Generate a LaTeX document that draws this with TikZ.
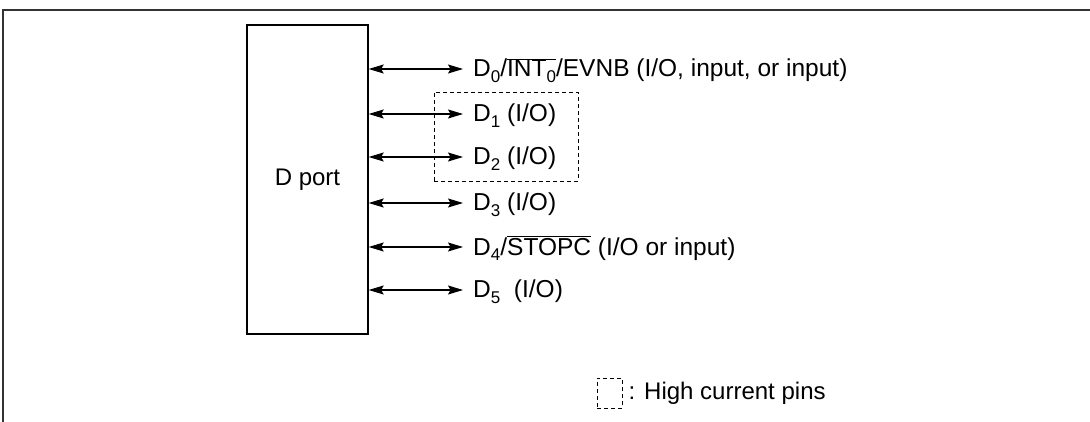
\documentclass[tikz,border=0pt]{standalone}
\usepackage{fontspec}
\setmainfont{Liberation Sans}
\usetikzlibrary{arrows.meta}

% small lowered index in the text font
\newcommand{\pinsub}[1]{\raisebox{-0.45ex}{\fontsize{17}{17}\selectfont #1}}
\newcommand{\pinbar}[1]{$\overline{\hbox{#1}}$}

\begin{document}
\begin{tikzpicture}[x=1pt, y=-1pt,
    pinarrow/.style={line width=1.1pt, {Stealth[length=15pt,width=9pt,inset=2.5pt]}-{Stealth[length=15pt,width=9pt,inset=2.5pt]}},
    pinlabel/.style={anchor=west, inner xsep=10pt, inner ysep=0pt, text height=16pt, text depth=0pt, font=\fontsize{24.5}{28}\selectfont},
    hcbox/.style={draw, line width=0.9pt, dash pattern=on 4pt off 3pt}]
        \useasboundingbox (0,0) rectangle (1090,422);

        % Frame
        \draw[line width=1.5pt, black!80] (3,422) -- (3,10) -- (1090,10);

        % Port block
        \node[draw, line width=1.3pt, minimum width=121pt, minimum height=309pt, inner sep=0pt,
              font=\fontsize{24}{28}\selectfont] (port) at (307.5,179.5) {D port};

        % Pin labels
        \node[pinlabel] (d0) at (463,69) {D\pinsub{0}/\pinbar{INT\pinsub{0}}/EVNB (I/O, input, or input)};
        \node[pinlabel] (d1) at (463,114) {D\pinsub{1} (I/O)};
        \node[pinlabel] (d2) at (463,157) {D\pinsub{2} (I/O)};
        \node[pinlabel] (d3) at (463,203) {D\pinsub{3} (I/O)};
        \node[pinlabel] (d4) at (463,247) {D\pinsub{4}/\pinbar{STOPC} (I/O or input)};
        \node[pinlabel] (d5) at (463,290) {D\pinsub{5}\ \ (I/O)};

        % Pin arrows
        \foreach \i in {0,...,5}
            \draw[pinarrow] (port.east |- d\i.west) -- (d\i.west);

        % High current pins
        \node[hcbox, minimum width=144pt, minimum height=89pt] (hc) at (506,136.5) {};

        % Legend
        \node[hcbox, minimum width=25pt, minimum height=30pt] (key) at (609.5,393) {};
        \node[anchor=west, inner sep=0pt, font=\fontsize{24}{28}\selectfont] (keytext) at ([xshift=6pt]key.east) {: High current pins};
    \end{tikzpicture}
\end{document}
